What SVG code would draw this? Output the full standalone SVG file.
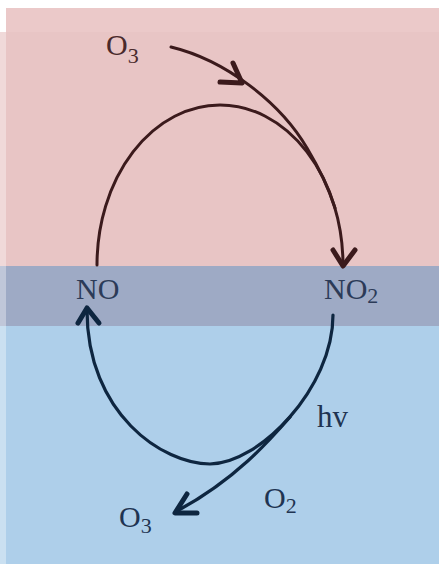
<svg xmlns="http://www.w3.org/2000/svg" width="439" height="564" viewBox="0 0 439 564">
<style>
.lbl{font-family:"Liberation Serif","Times New Roman",serif;font-size:30px}
.top{fill:#4a2a2c}
.bot{fill:#1f3452}
.mid{fill:#2c3b58}
.sub{font-size:22px}
.c1{fill:none;stroke:#3b1a1c;stroke-width:3;stroke-linecap:round}
.c2{fill:none;stroke:#0e2640;stroke-width:3.2;stroke-linecap:round}
.h1{fill:none;stroke:#3b1a1c;stroke-width:5;stroke-linecap:round;stroke-linejoin:round}
.h2{fill:none;stroke:#0e2640;stroke-width:5;stroke-linecap:round;stroke-linejoin:round}
</style>
<rect width="439" height="564" fill="#ffffff"/>
<g id="background">
<rect x="6" y="8" width="433" height="24" fill="#ebc9c9"/>
<rect x="0" y="32" width="439" height="234" fill="#e8c5c5"/>
<rect x="0" y="266" width="439" height="60" fill="#9eaac5"/>
<rect x="0" y="326" width="439" height="238" fill="#aecfea"/>
<rect x="0" y="32" width="6" height="532" fill="#ffffff" opacity="0.35"/>
</g>
<g id="connectors">
<path class="c1" d="M97,265 A123,160 0 0 1 343,265"/>
<path class="h1" d="M333,250 L343,266 L355,250"/>
<path class="c1" d="M171,47 C225,60 280,102 307,148 C316,163 328,186 335,208"/>
<path class="h1" d="M233,63 L242,83 L220,82"/>
<path class="c2" d="M87,310 C87,414 163,464 210,464 C259,464 333,388 333,315"/>
<path class="h2" d="M78,323 L87,308 L99,323"/>
<path class="c2" d="M290,417 C270,440 235,480 177,511"/>
<path class="h2" d="M187,494 L175,513 L197,513"/>
</g>
<g id="node-O3-top"><text class="lbl top" x="106" y="55">O<tspan class="sub" dy="8">3</tspan></text></g>
<g id="node-NO"><text class="lbl mid" x="76" y="299">NO</text></g>
<g id="node-NO2"><text class="lbl mid" x="324" y="299">NO<tspan class="sub" dy="4">2</tspan></text></g>
<g id="node-hv"><text class="lbl bot" x="317" y="427" style="font-size:31px">hv</text></g>
<g id="node-O2"><text class="lbl bot" x="264" y="508">O<tspan class="sub" dy="5">2</tspan></text></g>
<g id="node-O3-bottom"><text class="lbl bot" x="119" y="527">O<tspan class="sub" dy="6">3</tspan></text></g>
</svg>
